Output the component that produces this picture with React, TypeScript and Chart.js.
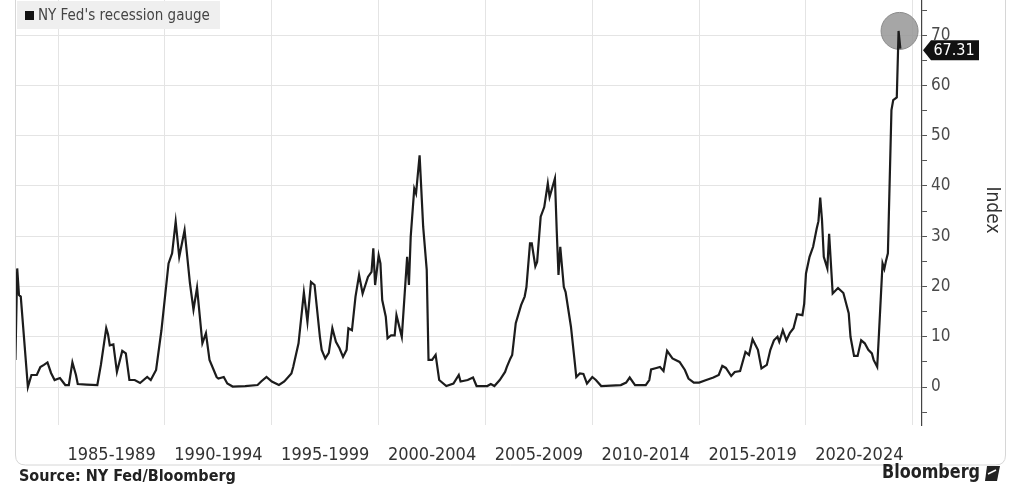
import React, { useEffect, useRef } from "react";
import { Chart, registerables } from "chart.js";
Chart.register(...registerables);

const months: string[] = [
  "1983-01","1983-02","1983-03","1983-04","1983-08","1983-10","1984-01","1984-03","1984-05","1984-07","1984-09","1984-11",
  "1985-02","1985-05","1985-07","1985-09","1985-11","1985-12","1986-05","1986-11","1987-01","1987-04","1987-05","1987-06",
  "1987-08","1987-10","1988-01","1988-03","1988-05","1988-08","1988-11","1989-03","1989-05","1989-08","1989-11","1990-03",
  "1990-05","1990-07","1990-09","1990-12","1991-03","1991-05","1991-07","1991-10","1991-12","1992-02","1992-06","1992-07",
  "1992-10","1992-12","1993-03","1993-10","1994-05","1994-07","1994-10","1995-01","1995-05","1995-08","1995-12","1996-01",
  "1996-04","1996-07","1996-09","1996-11","1997-01","1997-04","1997-05","1997-07","1997-09","1997-11","1998-01","1998-03",
  "1998-05","1998-07","1998-08","1998-10","1998-12","1999-02","1999-04","1999-07","1999-09","1999-10","1999-11","2000-01",
  "2000-02","2000-03","2000-05","2000-06","2000-08","2000-10","2000-11","2001-02","2001-05","2001-06","2001-07","2001-09",
  "2001-10","2001-12","2002-02","2002-04","2002-05","2002-07","2002-09","2002-11","2003-03","2003-07","2003-10","2003-11",
  "2004-03","2004-06","2004-08","2005-02","2005-04","2005-06","2005-09","2005-12","2006-01","2006-03","2006-04","2006-06",
  "2006-09","2006-11","2006-12","2007-02","2007-03","2007-05","2007-06","2007-08","2007-10","2007-12","2008-01","2008-04",
  "2008-05","2008-06","2008-07","2008-09","2008-10","2009-01","2009-03","2009-04","2009-06","2009-08","2009-10","2010-01",
  "2010-03","2010-06","2011-05","2011-08","2011-10","2012-01","2012-07","2012-09","2012-10","2013-01","2013-03","2013-05",
  "2013-07","2013-10","2014-02","2014-05","2014-07","2014-10","2015-01","2015-05","2015-09","2015-12","2016-02","2016-04",
  "2016-07","2016-09","2016-12","2017-03","2017-05","2017-07","2017-10","2017-12","2018-03","2018-05","2018-07","2018-09",
  "2018-10","2018-12","2019-02","2019-04","2019-06","2019-08","2019-11","2019-12","2020-01","2020-03","2020-05","2020-07",
  "2020-08","2020-09","2020-10","2020-11","2021-01","2021-02","2021-04","2021-07","2021-10","2022-01","2022-02","2022-04",
  "2022-06","2022-08","2022-10","2022-12","2023-02","2023-03","2023-05","2023-06","2023-08","2023-09","2023-10","2023-11",
  "2024-01","2024-02","2024-04","2024-05","2024-06",
];

const gaugeValues: number[] = [
  5.4,23.6,18.3,18.0,0.0,2.4,2.4,4.0,4.4,4.9,2.8,1.4,
  1.8,0.4,0.4,4.9,2.4,0.6,0.5,0.4,4.4,11.7,10.5,8.3,
  8.5,3.0,7.2,6.7,1.4,1.4,0.8,2.0,1.4,3.4,11.3,24.6,
  26.6,32.9,25.9,31.2,20.7,15.4,19.8,8.7,10.7,5.4,2.0,1.7,
  2.0,0.7,0.1,0.2,0.4,1.1,2.0,1.1,0.4,1.1,2.7,4.0,
  8.7,18.8,13.0,20.9,20.3,10.0,7.4,5.7,6.8,11.7,9.0,7.7,
  6.0,7.4,11.7,11.3,18.0,22.3,18.6,21.9,22.9,27.6,20.3,26.2,
  24.6,17.3,14.0,9.7,10.3,10.3,14.3,10.0,25.9,20.3,29.9,39.5,
  38.5,46.1,31.9,23.3,5.4,5.4,6.4,1.4,0.2,0.7,2.4,1.1,
  1.4,1.9,0.2,0.2,0.6,0.2,1.4,3.0,4.0,5.7,6.4,12.7,
  16.3,18.0,19.9,28.6,28.6,24.0,24.9,33.9,35.8,40.5,37.8,41.5,
  31.2,22.3,27.9,19.9,18.9,12.0,5.4,2.0,2.7,2.6,0.7,2.0,
  1.4,0.2,0.4,0.9,1.9,0.4,0.4,1.4,3.5,3.8,4.0,3.2,
  7.2,5.7,5.0,3.4,1.7,0.9,0.9,1.4,1.9,2.4,4.2,3.8,
  2.2,3.0,3.2,7.0,6.4,9.5,7.4,3.7,4.4,7.4,9.3,10.0,
  9.0,11.3,9.3,10.8,11.7,14.5,14.3,16.6,22.6,25.9,27.9,31.5,
  33.0,37.7,33.2,25.9,23.6,30.5,18.6,19.7,18.7,14.7,10.0,6.2,
  6.2,9.3,8.7,7.4,6.7,5.4,4.0,10.7,24.6,23.5,25.2,26.6,
  55.1,57.1,57.6,70.85,67.31,
];

const periodStarts: number[] = [1985, 1990, 1995, 2000, 2005, 2010, 2015, 2020];
const periodLabels: string[] = ["1985-1989","1990-1994","1995-1999","2000-2004","2005-2009","2010-2014","2015-2019","2020-2024"];
const gridYears: number[] = [1985, 1990, 1995, 2000, 2005, 2010, 2015, 2020, 2025];
const yTickLabels: number[] = [0, 10, 20, 30, 40, 50, 60, 70];
const seriesName = "NY Fed's recession gauge";
const lastLabel = "67.31";
const axisTitle = "Index";
const sourceText = "Source: NY Fed/Bloomberg";
const brandText = "Bloomberg";

const COND = "'DejaVu Sans Condensed', 'Liberation Sans Narrow', 'DejaVu Sans', sans-serif";

function toYear(m: string): number {
  const [y, mo] = m.split("-").map(Number);
  return y + (mo - 1) / 12;
}

const decorPlugin = {
  id: "decor",
  beforeDatasetsDraw(chart: any) {
    const ctx = chart.ctx;
    const meta = chart.getDatasetMeta(0);
    let maxI = 0;
    gaugeValues.forEach((v, i) => { if (v > gaugeValues[maxI]) maxI = i; });
    const p = meta.data[maxI];
    ctx.save();
    ctx.beginPath();
    ctx.arc(p.x + 1, p.y, 18.5, 0, Math.PI * 2);
    ctx.fillStyle = "rgba(150,150,150,0.85)";
    ctx.fill();
    ctx.strokeStyle = "#8a8a8a";
    ctx.lineWidth = 1;
    ctx.stroke();
    ctx.restore();
  },
  afterDraw(chart: any) {
    const ctx = chart.ctx;
    ctx.save();
    // frame
    ctx.strokeStyle = "#d6d6d6";
    ctx.lineWidth = 1;
    const fx = 15.5, fy = -20, fw = 990, fh = 485, r = 10;
    ctx.beginPath();
    ctx.moveTo(fx, fy);
    ctx.lineTo(fx, fy + fh - r);
    ctx.quadraticCurveTo(fx, fy + fh, fx + r, fy + fh);
    ctx.lineTo(fx + fw - r, fy + fh);
    ctx.quadraticCurveTo(fx + fw, fy + fh, fx + fw, fy + fh - r);
    ctx.lineTo(fx + fw, fy);
    ctx.stroke();

    // legend
    ctx.fillStyle = "#efefef";
    ctx.fillRect(17, 1, 203, 28);
    ctx.fillStyle = "#111";
    ctx.fillRect(25, 11, 9, 9);
    ctx.fillStyle = "#444";
    ctx.font = `15px ${COND}`;
    ctx.textBaseline = "middle";
    ctx.textAlign = "left";
    ctx.fillText(seriesName, 38, 16, 175);

    // last value badge
    const meta = chart.getDatasetMeta(0);
    const last = meta.data[meta.data.length - 1];
    const yAxis = chart.scales.y;
    const ax = yAxis.left;
    const by = last.y + 1.5;
    ctx.fillStyle = "#111";
    ctx.beginPath();
    ctx.moveTo(ax + 1, by);
    ctx.lineTo(ax + 9, by - 10);
    ctx.lineTo(ax + 57, by - 10);
    ctx.lineTo(ax + 57, by + 10);
    ctx.lineTo(ax + 9, by + 10);
    ctx.closePath();
    ctx.fill();
    ctx.fillStyle = "#fff";
    ctx.font = `16px ${COND}`;
    ctx.textAlign = "center";
    ctx.fillText(lastLabel, ax + 32, by + 1);

    // axis title
    ctx.save();
    ctx.translate(992, 210);
    ctx.rotate(Math.PI / 2);
    ctx.fillStyle = "#333";
    ctx.font = `19px ${COND}`;
    ctx.textAlign = "center";
    ctx.textBaseline = "middle";
    ctx.fillText(axisTitle, 0, 0);
    ctx.restore();

    // source
    ctx.fillStyle = "#222";
    ctx.font = `bold 16px ${COND}`;
    ctx.textAlign = "left";
    ctx.textBaseline = "middle";
    ctx.fillText(sourceText, 19, 477, 221);

    // brand
    ctx.font = `bold 19px ${COND}`;
    ctx.textAlign = "right";
    ctx.fillText(brandText, 980, 473, 98);
    ctx.fillStyle = "#222";
    ctx.beginPath();
    ctx.moveTo(987, 466);
    ctx.lineTo(1000, 466);
    ctx.lineTo(997, 481);
    ctx.lineTo(985, 481);
    ctx.closePath();
    ctx.fill();
    ctx.strokeStyle = "#fff";
    ctx.lineWidth = 1.5;
    ctx.beginPath();
    ctx.moveTo(988, 474);
    ctx.lineTo(996, 470);
    ctx.stroke();
    ctx.restore();
  },
};

export default function App() {
  const ref = useRef<HTMLCanvasElement>(null);
  useEffect(() => {
    if (!ref.current) return;
    const points = months.map((m, i) => ({ x: toYear(m), y: gaugeValues[i] }));
    const centers = periodStarts.map((s) => s + 2.5);
    const chart = new Chart(ref.current, {
      type: "line",
      data: {
        datasets: [
          {
            label: seriesName,
            data: points,
            borderColor: "#1c1c1c",
            borderWidth: 2.2,
            pointRadius: 0,
            tension: 0,
            fill: false,
          },
        ],
      },
      options: {
        animation: false,
        responsive: false,
        devicePixelRatio: 1,
        parsing: false as any,
        layout: { padding: { left: 15, top: 0, right: 0, bottom: 0 } },
        plugins: { legend: { display: false }, tooltip: { enabled: false } },
        scales: {
          x: {
            type: "linear",
            min: 1982.98,
            max: 2025.43,
            afterBuildTicks: (s: any) => {
              s.ticks = [...gridYears, ...centers].sort((a, b) => a - b).map((v) => ({ value: v }));
            },
            afterFit: (s: any) => { s.height = 61; s.paddingLeft = 0; s.paddingRight = 0; },
            ticks: {
              autoSkip: false,
              maxRotation: 0,
              padding: 20,
              color: "#333",
              font: { family: COND, size: 18 },
              callback: (v: any) => {
                const i = centers.indexOf(Number(v));
                return i >= 0 ? periodLabels[i] : "";
              },
            },
            grid: {
              drawTicks: false,
              color: (c: any) => (gridYears.includes(c.tick?.value) ? "#e4e4e4" : "rgba(0,0,0,0)"),
              lineWidth: 1,
            },
            border: { display: false },
          },
          y: {
            type: "linear",
            position: "right",
            min: -7.55,
            max: 77,
            afterFit: (s: any) => { s.width = 99; s.paddingTop = 0; s.paddingBottom = 0; },
            ticks: {
              stepSize: 5,
              includeBounds: false,
              padding: 4,
              color: "#4a4a4a",
              font: { family: COND, size: 17 },
              callback: (v: any) => (yTickLabels.includes(Number(v)) ? String(v) : ""),
            },
            grid: {
              color: (c: any) => (yTickLabels.includes(c.tick?.value) ? "#e4e4e4" : "rgba(0,0,0,0)"),
              tickColor: "#555",
              tickLength: 5,
            },
            border: { color: "#444", width: 1.2 },
          },
        },
      },
      plugins: [decorPlugin],
    });
    return () => chart.destroy();
  }, []);
  return (
    <div style={{ position: "fixed", left: 0, top: 0, width: 1021, height: 486, background: "#fff" }}>
      <canvas ref={ref} width={1021} height={486} style={{ display: "block" }} />
    </div>
  );
}
